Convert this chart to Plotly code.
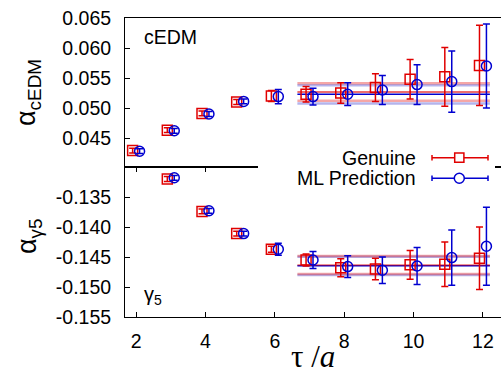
import plotly.graph_objects as go

# ---------------- data ----------------
tau = [2, 3, 4, 5, 6, 7, 8, 9, 10, 11, 12]
cedm_genuine = [0.0429, 0.0463, 0.0491, 0.0510, 0.0520, 0.0523, 0.0525, 0.0534, 0.0548, 0.0552, 0.0571]
cedm_genuine_err = [0.0004, 0.0004, 0.0004, 0.0004, 0.0009, 0.0013, 0.0017, 0.0023, 0.0033, 0.0049, 0.0067]
cedm_ml = [0.0428, 0.0462, 0.0490, 0.0511, 0.0519, 0.0519, 0.0523, 0.0530, 0.0539, 0.0544, 0.0570]
cedm_ml_err = [0.0004, 0.0004, 0.0004, 0.0004, 0.0012, 0.0014, 0.0019, 0.0024, 0.0033, 0.0051, 0.0070]

tau_g5 = [3, 4, 5, 6, 7, 8, 9, 10, 11, 12]
g5_genuine = [-0.1320, -0.1374, -0.1411, -0.1437, -0.1455, -0.1468, -0.1470, -0.1463, -0.1462, -0.1452]
g5_genuine_err = [0.0004, 0.0004, 0.0004, 0.0005, 0.0010, 0.0015, 0.0018, 0.0024, 0.0037, 0.0052]
g5_ml = [-0.1318, -0.1373, -0.1411, -0.1437, -0.1455, -0.1466, -0.1472, -0.1465, -0.1451, -0.1432]
g5_ml_err = [0.0004, 0.0004, 0.0004, 0.0010, 0.0014, 0.0018, 0.0022, 0.0031, 0.0046, 0.0065]

fit_tau = [6.65, 12.2]
cedm_fit_genuine = [0.05267, 0.00145]   # value, error
cedm_fit_ml = [0.05228, 0.00153]
g5_fit_genuine = [-0.14633, 0.00150]
g5_fit_ml = [-0.14647, 0.00153]

xticks = [2, 4, 6, 8, 10, 12]
yticks_top = [0.045, 0.050, 0.055, 0.060, 0.065]
yticks_top_text = ["0.045", "0.050", "0.055", "0.060", "0.065"]
yticks_bot = [-0.155, -0.150, -0.145, -0.140, -0.135]
yticks_bot_text = ["-0.155", "-0.150", "-0.145", "-0.140", "-0.135"]

# ---------------- style ----------------
RED = "#e00000"
BLUE = "#0000d0"
FONT = "Liberation Sans"
W, H = 501, 373
L, R, T, B = 125, 0, 18, 56
PW, PH = W - L - R, H - T - B
SPLIT = (317 - 167) / PH
OFF = 0.1


def px(xp, yp):
    return (xp - L) / PW, (H - B - yp) / PH


fig = go.Figure()


def band(xax, yax, fitval, color_light, color_center, center_opacity):
    v, e = fitval
    for yy, c, w, op in [(v + e, color_light, 2.5, 1), (v - e, color_light, 2.5, 1), (v, color_center, 1.6, center_opacity)]:
        fig.add_trace(go.Scatter(x=fit_tau, y=[yy, yy], mode="lines", yaxis=yax, xaxis=xax,
                                 line=dict(color=c, width=w), opacity=op, showlegend=False, hoverinfo="skip"))


# fit bands
band("x2", "y", cedm_fit_ml, "rgba(40,40,200,0.35)", BLUE, 1)
band("x2", "y", cedm_fit_genuine, "rgba(225,0,0,0.35)", RED, 0.75)
band("x", "y2", g5_fit_ml, "rgba(40,40,200,0.35)", BLUE, 1)
band("x", "y2", g5_fit_genuine, "rgba(225,0,0,0.35)", RED, 0.55)


def pts(xs, ys, es, xax, yax, color, symbol):
    fig.add_trace(go.Scatter(
        x=xs, y=ys, mode="markers", yaxis=yax, xaxis=xax,
        marker=dict(symbol=symbol, size=10, color=color, line=dict(color=color, width=1.5)),
        error_y=dict(type="data", array=es, visible=True, color=color, thickness=1.5, width=3.5),
        showlegend=False, cliponaxis=True))


pts([t - OFF for t in tau], cedm_genuine, cedm_genuine_err, "x2", "y", RED, "square-open")
pts([t + OFF for t in tau], cedm_ml, cedm_ml_err, "x2", "y", BLUE, "circle-open")
pts([t - OFF for t in tau_g5], g5_genuine, g5_genuine_err, "x", "y2", RED, "square-open")
pts([t + OFF for t in tau_g5], g5_ml, g5_ml_err, "x", "y2", BLUE, "circle-open")

tickfont = dict(family=FONT, size=19.5, color="black")
common_y = dict(showgrid=False, zeroline=False, showline=True, linecolor="black", linewidth=1,
                ticks="inside", ticklen=5, tickcolor="black", tickfont=tickfont, ticklabelstandoff=9)

fig.update_layout(
    width=W, height=H, margin=dict(l=L, r=R, t=T, b=B),
    paper_bgcolor="white", plot_bgcolor="white", showlegend=False,
    xaxis=dict(domain=[0, 1], anchor="y2", range=[1.68, 12.52], tickvals=xticks,
               showgrid=False, zeroline=False, showline=True, linecolor="black", linewidth=1,
               mirror="ticks", ticks="inside", ticklen=5, tickcolor="black", tickfont=tickfont,
               ticklabelstandoff=7),
    xaxis2=dict(domain=[0, 1], anchor="y", matches="x", showticklabels=False, tickvals=[],
                showgrid=False, zeroline=False, showline=True, linecolor="black", linewidth=1,
                mirror=True, ticks=""),
    yaxis=dict(domain=[SPLIT, 1], anchor="x2", range=[0.065 - 149 / 6000, 0.065],
               tickvals=yticks_top, ticktext=yticks_top_text, **common_y),
    yaxis2=dict(domain=[0, SPLIT], anchor="x", range=[-0.155, -0.155 + 150 / 6000],
                tickvals=yticks_bot, ticktext=yticks_bot_text, **common_y),
    yaxis3=dict(overlaying="y", side="right", anchor="x2", range=[0.065 - 149 / 6000, 0.065],
                tickvals=yticks_top, showticklabels=False, ticks="inside", ticklen=5,
                tickcolor="black", showline=False, showgrid=False, zeroline=False),
    yaxis4=dict(overlaying="y2", side="right", anchor="x", range=[-0.155, -0.155 + 150 / 6000],
                tickvals=yticks_bot, showticklabels=False, ticks="inside", ticklen=5,
                tickcolor="black", showline=False, showgrid=False, zeroline=False),
)

shapes = []
# legend background (covers axis line)
x0, y0 = px(258, 192)
x1, y1 = px(495, 142)
shapes.append(dict(type="rect", xref="paper", yref="paper", x0=x0, x1=x1, y0=y0, y1=y1,
                   fillcolor="white", line=dict(width=0), layer="above"))
for yl, col, sym in [(157.7, RED, "square"), (178.3, BLUE, "circle")]:
    a0, b0 = px(432, yl)
    a1, _ = px(488, yl)
    shapes.append(dict(type="line", xref="paper", yref="paper", x0=a0, x1=a1, y0=b0, y1=b0,
                       line=dict(color=col, width=1.5), layer="above"))
    for xc in (432, 488):
        c0, d0 = px(xc, yl - 2.8)
        _, d1 = px(xc, yl + 2.8)
        shapes.append(dict(type="line", xref="paper", yref="paper", x0=c0, x1=c0, y0=d0, y1=d1,
                           line=dict(color=col, width=1.5), layer="above"))
    r = 4.6 if sym == "square" else 5
    e0, f0 = px(459.3 - r, yl + r)
    e1, f1 = px(459.3 + r, yl - r)
    shapes.append(dict(type="rect" if sym == "square" else "circle", xref="paper", yref="paper",
                       x0=e0, x1=e1, y0=f0, y1=f1, fillcolor="white",
                       line=dict(color=col, width=1.5), layer="above"))
fig.update_layout(shapes=shapes)

ann = []
lx, ly = px(418, 157.5)
ann.append(dict(text="Genuine", x=lx, y=ly, xref="paper", yref="paper", xanchor="right", yanchor="middle",
                showarrow=False, font=dict(family=FONT, size=19.5, color="black")))
lx, ly = px(418, 178.3)
ann.append(dict(text="ML Prediction", x=lx, y=ly, xref="paper", yref="paper", xanchor="right",
                yanchor="middle", showarrow=False, font=dict(family=FONT, size=19.5, color="black")))
lx, ly = px(142, 37)
ann.append(dict(text="cEDM", x=lx, y=ly, xref="paper", yref="paper", xanchor="left", yanchor="middle",
                showarrow=False, font=dict(family=FONT, size=19.5, color="black")))
lx, ly = px(142, 295)
ann.append(dict(text="γ<sub>5</sub>", x=lx, y=ly, xref="paper", yref="paper", xanchor="left",
                yanchor="middle", showarrow=False, font=dict(family=FONT, size=20, color="black")))
lx, ly = px(28, 93)
ann.append(dict(text="α<sub>cEDM</sub>", x=lx, y=ly, xref="paper", yref="paper", xanchor="center",
                yanchor="middle", textangle=-90, showarrow=False,
                font=dict(family=FONT, size=27, color="black")))
lx, ly = px(29, 236)
ann.append(dict(text="α<sub>γ5</sub>", x=lx, y=ly, xref="paper", yref="paper", xanchor="center",
                yanchor="middle", textangle=-90, showarrow=False,
                font=dict(family=FONT, size=27, color="black")))
lx, ly = px(313, 356)
ann.append(dict(text="τ /<i>a</i>", x=lx, y=ly, xref="paper", yref="paper", xanchor="center",
                yanchor="middle", showarrow=False,
                font=dict(family="Liberation Serif", size=31, color="black")))
fig.update_layout(annotations=ann)

fig.write_html("out.html")
